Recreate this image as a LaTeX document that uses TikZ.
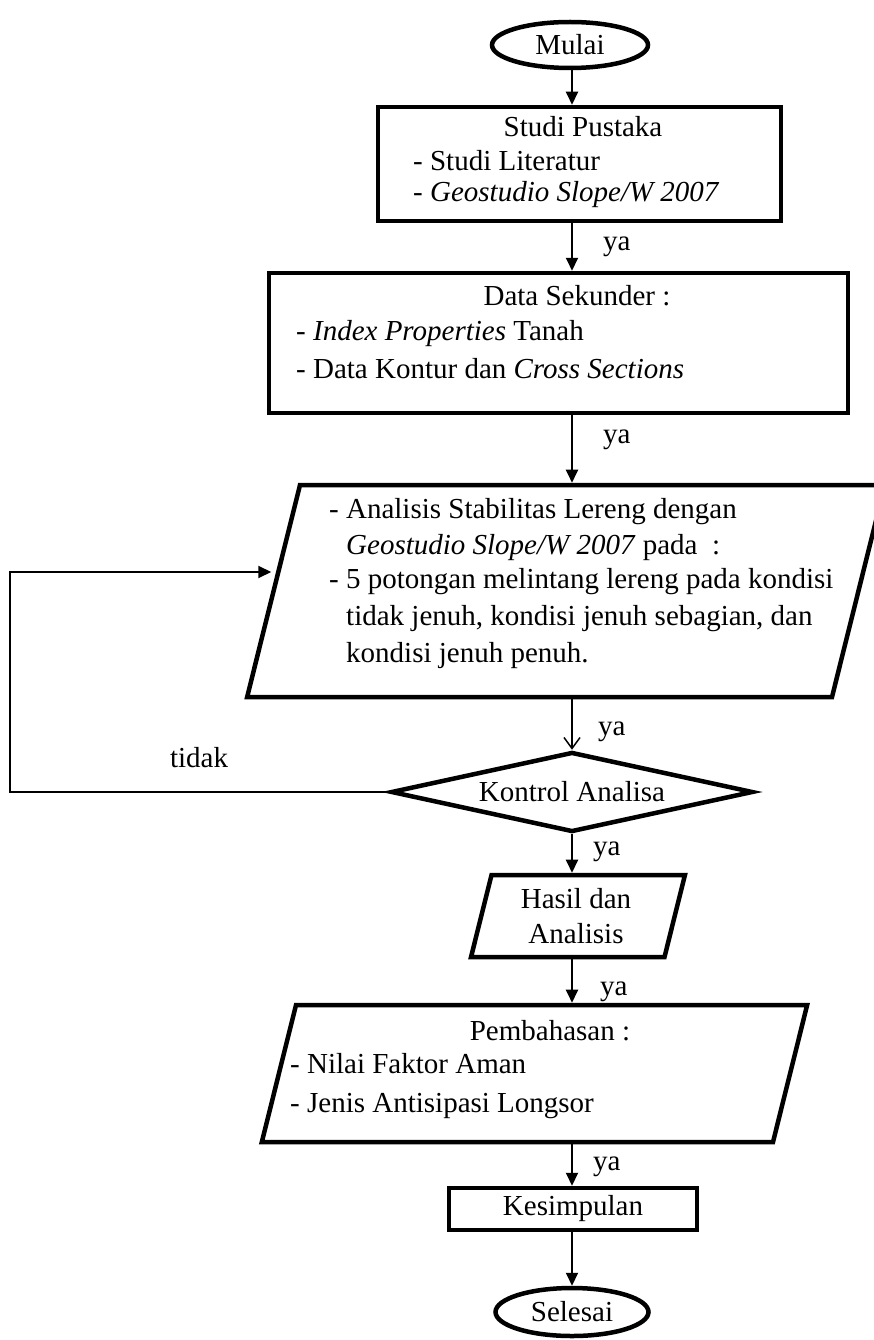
\documentclass[tikz,border=0pt]{standalone}
\usepackage{fontspec}
\setmainfont{Liberation Serif}
\usetikzlibrary{arrows.meta, shapes.geometric}
\newcommand{\iobox}[2]{\rule{#1}{0pt}\rule{0pt}{#2}}

\begin{document}
\begin{tikzpicture}[
        x=1pt, y=-1pt,
        every node/.style={font=\fontsize{29}{35}\selectfont, inner sep=0pt},
        proc/.style={draw, line width=4.5pt, rectangle},
        io/.style={draw, line width=4.5pt, trapezium, trapezium left angle=76,
            trapezium right angle=104},
        term/.style={draw, line width=4.5pt, ellipse},
        cek/.style={draw, line width=4.5pt, diamond, aspect=4},
        arr/.style={-{Triangle[length=13pt,width=12pt]}, line width=2pt},
        arrv/.style={-{Straight Barb[length=11pt,width=16pt]}, line width=1.5pt}
    ]
    \useasboundingbox (0,0) rectangle (873,1340);
    \coordinate (axis) at (572,0);
    % shapes
    \node[term, minimum width=156pt, minimum height=46pt] (mulai) at (570,45) {Mulai};
    \node[proc, minimum width=403pt, minimum height=114pt] (pustaka) at (579.5,164) {};
    \node[proc, minimum width=579pt, minimum height=140pt] (data) at (558.5,343) {};
    \node[io] (analisis) at (566,591) {\iobox{532pt}{212pt}};
    \node[cek, minimum width=362pt, minimum height=80pt] (kontrol) at (572,792) {Kontrol Analisa};
    \node[io] (hasil) at (578,916) {\iobox{173pt}{82pt}};
    \node[io] (bahas) at (534.5,1073.5) {\iobox{477pt}{137pt}};
    \node[proc, minimum width=248pt, minimum height=42pt] (simpul) at (573,1209) {Kesimpulan};
    \node[term, minimum width=153pt, minimum height=48pt] (selesai) at (572,1312) {Selesai};
    % texts
    \node[anchor=base] (pustakaT) at (583,137) {Studi Pustaka};
    \node[anchor=base west] (pustakaA) at (413,171) {- Studi Literatur};
    \node[anchor=base west] (pustakaB) at (413,202) {- \textit{Geostudio Slope/W 2007}};
    \node[anchor=base] (dataT) at (577,305) {Data Sekunder :};
    \node[anchor=base west] (dataA) at (296,340) {- \textit{Index Properties} Tanah};
    \node[anchor=base west] (dataB) at (296,378) {- Data Kontur dan \textit{Cross Sections}};
    \node[anchor=base west] (analisisA) at (329,518) {- Analisis Stabilitas Lereng dengan};
    \node[anchor=base west] (analisisB) at (346,554) {\textit{Geostudio Slope/W 2007} pada \ :};
    \node[anchor=base west] (analisisC) at (329,588) {- 5 potongan melintang lereng pada kondisi};
    \node[anchor=base west] (analisisD) at (346,625) {tidak jenuh, kondisi jenuh sebagian, dan};
    \node[anchor=base west] (analisisE) at (346,662) {kondisi jenuh penuh.};
    \node[anchor=base] (hasilA) at (576,908) {Hasil dan};
    \node[anchor=base] (hasilB) at (576,943) {Analisis};
    \node[anchor=base] (bahasT) at (550,1040) {Pembahasan :};
    \node[anchor=base west] (bahasA) at (290,1073) {- Nilai Faktor Aman};
    \node[anchor=base west] (bahasB) at (290,1112) {- Jenis Antisipasi Longsor};
    % labels
    \node[anchor=base west] (ya1) at (603,251) {ya};
    \node[anchor=base west] (ya2) at (603,443) {ya};
    \node[anchor=base west] (ya3) at (598,735) {ya};
    \node[anchor=base west] (ya4) at (593,855) {ya};
    \node[anchor=base west] (ya5) at (600,995) {ya};
    \node[anchor=base west] (ya6) at (593,1170) {ya};
    \node[anchor=base] (tidak) at (199,767) {tidak};
    % connectors
    \coordinate (balik) at (10,572);
    \draw[arr] (mulai.south -| axis) -- (pustaka.north -| axis);
    \draw[arr] (pustaka.south -| axis) -- (data.north -| axis);
    \draw[arr] (data.south -| axis) -- (analisis.north -| axis);
    \draw[arrv] (analisis.south -| axis) -- (kontrol.north);
    \draw[arr] (kontrol.south) -- (hasil.north -| axis);
    \draw[arr] (hasil.south -| axis) -- (bahas.north -| axis);
    \draw[arr] (bahas.south -| axis) -- (simpul.north -| axis);
    \draw[arr] (simpul.south -| axis) -- (selesai.north -| axis);
    \draw[arr] (kontrol.west) -| (balik) -- (balik -| analisis.west);
\end{tikzpicture}
\end{document}
